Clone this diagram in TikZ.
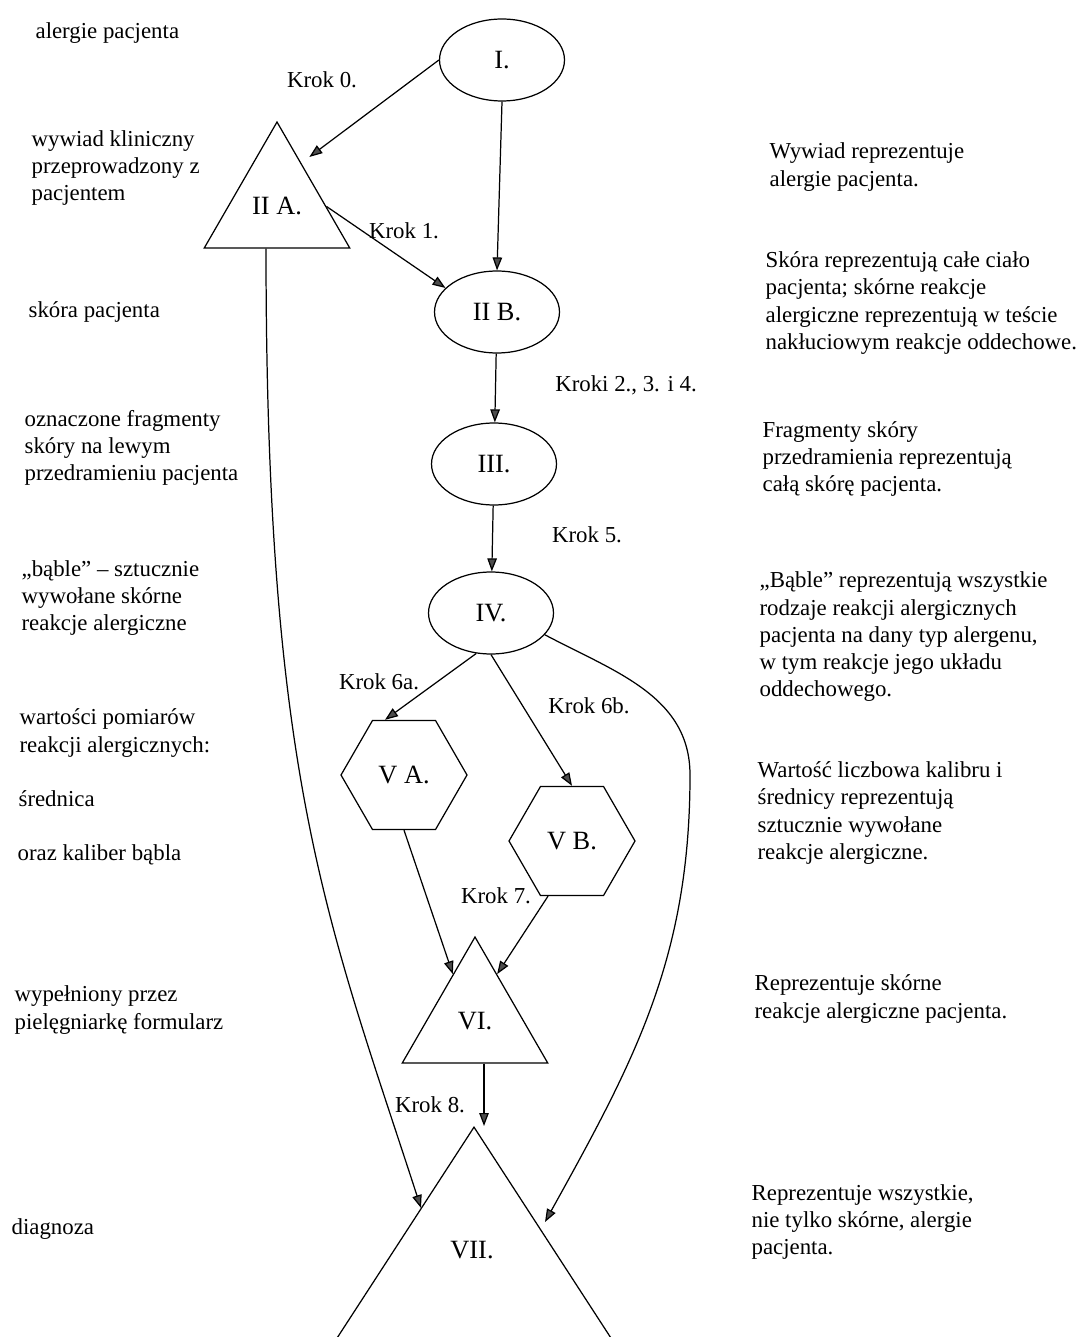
\documentclass[tikz,border=0pt]{standalone}
\usepackage{fontspec}
\setmainfont{Liberation Serif}
\usetikzlibrary{shapes.geometric,arrows.meta,calc}

\begin{document}
\begin{tikzpicture}[x=0.02cm, y=-0.02cm,
oval/.style={draw, ellipse, minimum width=2.5cm, minimum height=1.64cm, inner sep=0pt, font=\fontsize{15}{18}\selectfont},
tri/.style={draw, regular polygon, regular polygon sides=3, minimum size=3.36cm, inner sep=0pt, font=\fontsize{15}{18}\selectfont},
hexa/.style={draw, regular polygon, regular polygon sides=6, minimum size=2.52cm, inner sep=0pt, font=\fontsize{15}{18}\selectfont},
bigtri/.style={draw, isosceles triangle, isosceles triangle apex angle=66, shape border rotate=90, minimum width=9cm, minimum height=9cm, inner sep=0pt},
txt/.style={anchor=west, align=left, inner sep=0pt, font=\fontsize{13}{15.5}\selectfont},
krok/.style={inner sep=0pt, font=\fontsize{13}{15.5}\selectfont},
arr/.style={-{Triangle[length=2.6mm, width=1.9mm, fill=black!70]}, line width=0.7pt},
every node/.append style={line width=0.7pt}
]
\useasboundingbox (0,0) rectangle (1084,1337);
\clip (0,0) rectangle (1084,1337);
\fill[white] (0,0) rectangle (1084,1337);

% main column
\node[oval] (I) at (502,60) {I.};
\node[tri] (IIA) at (277,206) {II A.};
\node[oval] (IIB) at (497,312) {II B.};
\node[oval] (III) at (494,464) {III.};
\node[oval] (IV) at (491,613) {IV.};
\node[hexa] (VA) at (404,775) {V A.};
\node[hexa] (VB) at (572,841) {V B.};
\node[tri] (VI) at (475,1021) {VI.};
\node[bigtri, anchor=apex] (VII) at (474,1126) {};
\node[krok, font=\fontsize{15}{18}\selectfont] (VIIt) at (472,1250) {VII.};

\coordinate (VIIl) at ($(VII.apex)+(-53,82)$);
\coordinate (VIIr) at ($(VII.apex)+(71,96)$);
\coordinate (IVbend) at (690,775);

% steps
\node[krok] (k0) at (322,80) {Krok 0.};
\node[krok] (k1) at (404,231) {Krok 1.};
\node[krok] (k2) at (626,385) {Kroki 2., 3. i 4.};
\node[krok] (k5) at (587,535) {Krok 5.};
\node[krok] (k6a) at (379,682) {Krok 6a.};
\node[krok] (k6b) at (589,706) {Krok 6b.};
\node[krok] (k7) at (496,896) {Krok 7.};
\node[krok] (k8) at (430,1105) {Krok 8.};

\draw[arr, shorten >=0.2cm] (I.west) -- ($(IIA.corner 1)!0.33!(IIA.corner 3)$);
\draw[arr] (I.south) -- (IIB.north);
\draw[arr] ($(IIA.corner 1)!0.67!(IIA.corner 3)$) -- (IIB.155);
\draw[arr] (IIB) -- (III);
\draw[arr] (III) -- (IV);
\draw[arr] (IV.250) -- ($(VA.north)+(-19,0)$);
\draw[arr] (IV.south) -- (VB.north);
\draw[arr] (VA.south) -- ($(VI.corner 1)!0.3!(VI.corner 2)$);
\draw[arr] ($(VB.south)+(-24,0)$) -- ($(VI.corner 1)!0.3!(VI.corner 3)$);
\draw[arr] ([xshift=0.18cm]VI.south) -- ([xshift=0.18cm]VI.south |- VII.apex);
\draw[arr] ([xshift=-0.22cm]IIA.south) to[out=-90, in=108, out looseness=1.4, in looseness=0.8] (VIIl);
\draw[arr] (IV.-22) to[out=-28, in=90] (IVbend) to[out=-90, in=61] (VIIr);

% left column
\node[txt] (la) at (35,33) {alergie pacjenta};
\node[txt] (lb) at (31,168) {wywiad kliniczny\\przeprowadzony z\\pacjentem};
\node[txt] (lc) at (28,312) {skóra pacjenta};
\node[txt] (ld) at (24,448) {oznaczone fragmenty\\skóry na lewym\\przedramieniu pacjenta};
\node[txt] (le) at (21,598) {„bąble” – sztucznie\\wywołane skórne\\reakcje alergiczne};
\node[txt] (lf) at (19,733) {wartości pomiarów\\reakcji alergicznych:};
\node[txt] (lg) at (18,799) {średnica};
\node[txt] (lh) at (17,855) {oraz kaliber bąbla};
\node[txt] (li) at (14,1010) {wypełniony przez\\pielęgniarkę formularz};
\node[txt] (lj) at (11,1229) {diagnoza};

% right column
\node[txt] (ra) at (769,167) {Wywiad reprezentuje\\alergie pacjenta.};
\node[txt] (rb) at (765,303) {Skóra reprezentują całe ciało\\pacjenta; skórne reakcje\\alergiczne reprezentują w teście\\nakłuciowym reakcje oddechowe.};
\node[txt] (rc) at (762,459) {Fragmenty skóry\\przedramienia reprezentują\\całą skórę pacjenta.};
\node[txt] (rd) at (759,637) {„Bąble” reprezentują wszystkie\\rodzaje reakcji alergicznych\\pacjenta na dany typ alergenu,\\w tym reakcje jego układu\\oddechowego.};
\node[txt] (re) at (757,813) {Wartość liczbowa kalibru i\\średnicy reprezentują\\sztucznie wywołane\\reakcje alergiczne.};
\node[txt] (rf) at (754,999) {Reprezentuje skórne\\reakcje alergiczne pacjenta.};
\node[txt] (rg) at (751,1222) {Reprezentuje wszystkie,\\nie tylko skórne, alergie\\pacjenta.};
\end{tikzpicture}
\end{document}
